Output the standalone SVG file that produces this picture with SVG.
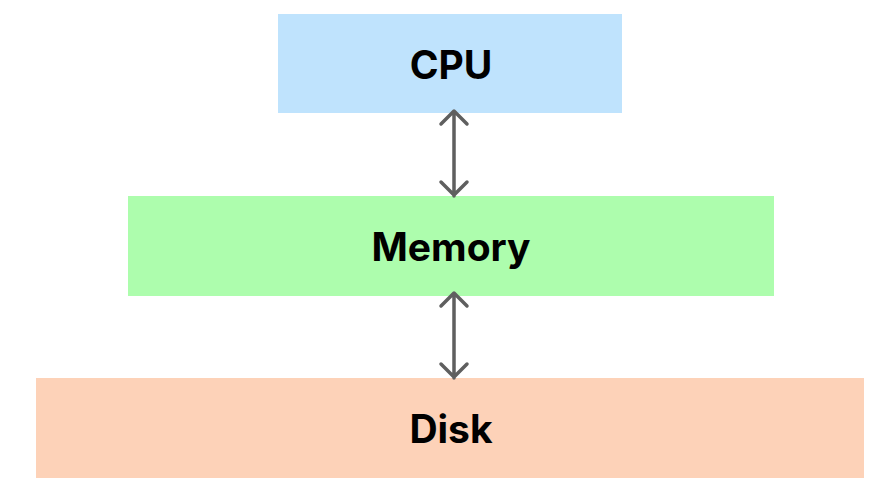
<svg xmlns="http://www.w3.org/2000/svg" width="894" height="504" viewBox="0 0 894 504">
<style>
.lbl{font-family:"Inter","Liberation Sans",sans-serif;font-weight:bold;font-size:39px;fill:#000;text-anchor:middle;dominant-baseline:central}
.c{stroke:#5f5f5f;stroke-width:3.5;fill:none;stroke-linecap:round;stroke-linejoin:round}
</style>
<rect width="894" height="504" fill="#fff"/>
<g id="cpu"><rect x="278" y="14" width="344" height="99" fill="#bfe3fd"/><text class="lbl" x="451" y="64">CPU</text></g>
<g id="memory"><rect x="128" y="196" width="646" height="100" fill="#adfdad"/><text class="lbl" x="451" y="246">Memory</text></g>
<g id="disk"><rect x="36" y="378" width="828" height="100" fill="#fdd2b8"/><text class="lbl" x="451" y="428">Disk</text></g>
<g id="connectors">
<path class="c" d="M454 112V196M441 124L454 111L467 124M441 182L454 195L467 182"/>
<path class="c" d="M454 294V378M441 306L454 293L467 306M441 364L454 377L467 364"/>
</g>
</svg>
